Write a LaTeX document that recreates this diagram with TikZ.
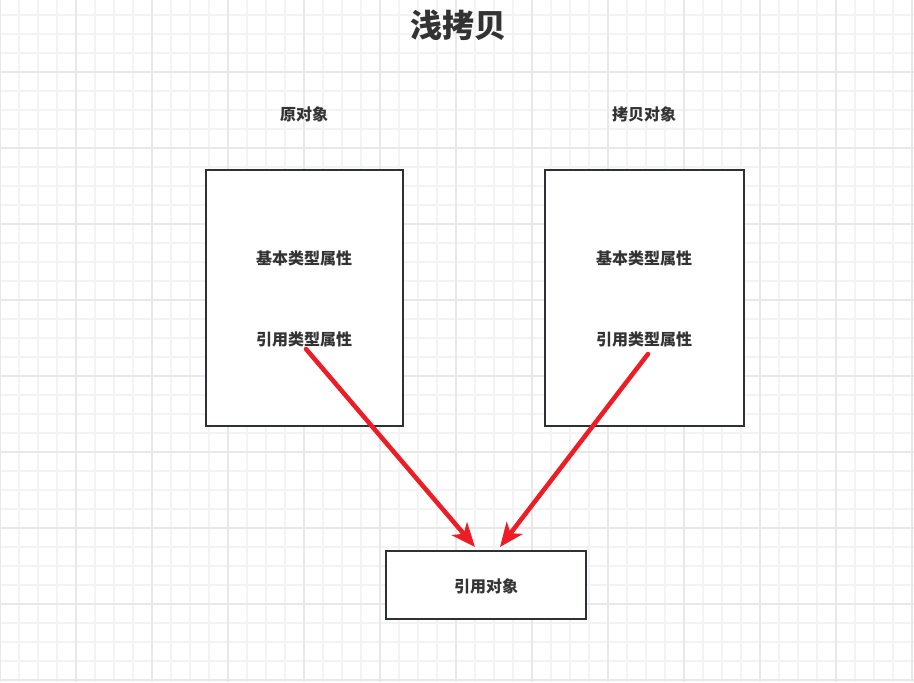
\documentclass[tikz,border=0pt]{standalone}
\usepackage{fontspec}
\setmainfont{Noto Sans CJK SC}
\usetikzlibrary{arrows.meta}
\definecolor{gridminor}{HTML}{F3F3F3}
\definecolor{gridmajor}{HTML}{E8E8E8}
\definecolor{boxline}{HTML}{2D3035}
\definecolor{textdark}{HTML}{333333}
\definecolor{refred}{HTML}{EE1C25}

\begin{document}
\begin{tikzpicture}[x=0.75pt,y=-0.75pt,
  box/.style={draw=boxline,line width=1.1pt,fill=white,inner sep=0pt},
  lbl/.style={text=textdark,font=\bfseries\fontsize{12pt}{13pt}\selectfont,inner sep=1pt},
  refarrow/.style={draw=refred,line width=3.4pt,line cap=round,-{Stealth[length=18pt,width=15pt,inset=5pt]}}]
\useasboundingbox (0,0) rectangle (914,682);
\fill[white] (0,0) rectangle (914,682);
% grid
\foreach \i in {0,...,48} \draw[gridminor,line width=0.8pt] (\i*19,0) -- (\i*19,682);
\foreach \j in {1,...,36} \draw[gridminor,line width=0.8pt] (0,\j*19-4) -- (914,\j*19-4);
\foreach \i in {0,...,12} \draw[gridmajor,line width=1pt] (\i*76,0) -- (\i*76,682);
\foreach \j in {1,...,9} \draw[gridmajor,line width=1pt] (0,\j*76-4) -- (914,\j*76-4);
% title
\node[text=textdark,font=\bfseries\fontsize{24pt}{25pt}\selectfont] (title) at (458,25) {浅拷贝};
% objects
\node[lbl] (origname) at (304,114) {原对象};
\node[lbl] (copyname) at (644,114) {拷贝对象};
\node[box,minimum width=147.75pt,minimum height=192pt] (orig) at (304.5,298) {};
\node[box,minimum width=149.25pt,minimum height=192pt] (copy) at (644.5,298) {};
\node[lbl] (basic1) at (304,258) {基本类型属性};
\node[lbl] (ref1) at (304,339) {引用类型属性};
\node[lbl] (basic2) at (644,258) {基本类型属性};
\node[lbl] (ref2) at (644,339) {引用类型属性};
\node[box,minimum width=150pt,minimum height=51pt] (target) at (486,585) {};
\node[lbl] (targetname) at (486,586) {引用对象};
% references
\coordinate (startL) at (306,349);
\coordinate (startR) at (648,354);
\coordinate (tipL) at (475,547);
\coordinate (tipR) at (500,547);
\draw[refarrow] (startL) -- (tipL);
\draw[refarrow] (startR) -- (tipR);
\end{tikzpicture}
\end{document}
